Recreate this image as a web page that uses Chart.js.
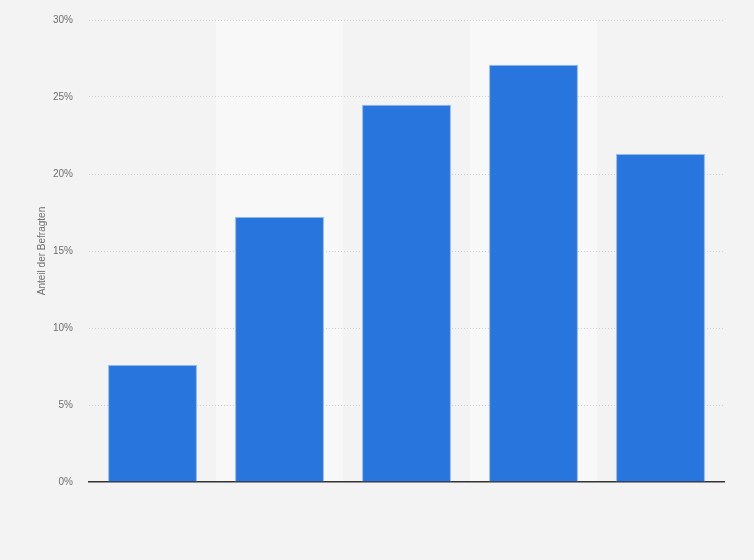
<!DOCTYPE html>
<html>
<head>
<meta charset="utf-8">
<script src="https://cdn.jsdelivr.net/npm/chart.js@4/dist/chart.umd.min.js"></script>
<style>
  html, body { margin: 0; padding: 0; background: #f3f3f3; }
  #wrap { width: 754px; height: 560px; position: relative; }
</style>
</head>
<body>
<div id="wrap"><canvas id="barChart"></canvas></div>
<script>
// categories are not labelled in the picture
const categories = ["", "", "", "", ""];
const shares = [7.6, 17.2, 24.5, 27.1, 21.3];
const yTicks = [0, 5, 10, 15, 20, 25, 30];
const yTitle = "Anteil der Befragten";

// page background plus light bands behind every second column
const bandPlugin = {
  id: "bands",
  beforeDraw(chart) {
    const { ctx, chartArea, scales } = chart;
    ctx.save();
    ctx.fillStyle = "#f3f3f3";
    ctx.fillRect(0, 0, chart.width, chart.height);
    const x = scales.x;
    const step = x.width / categories.length;
    ctx.fillStyle = "#f8f8f8";
    for (let i = 1; i < categories.length; i += 2) {
      const center = x.getPixelForValue(i);
      ctx.fillRect(center - step / 2, chartArea.top, step, chartArea.bottom - chartArea.top);
    }
    ctx.restore();
  },
};

const ctx = document.getElementById("barChart").getContext("2d");

const chart = new Chart(ctx, {
  type: "bar",
  data: {
    labels: categories,
    datasets: [
      {
        data: shares,
        backgroundColor: "#2876dd",
        borderColor: "#8fb8ee",
        borderWidth: { top: 1, left: 1, right: 1, bottom: 0 },
        categoryPercentage: 0.7,
        barPercentage: 1,
      },
    ],
  },
  options: {
    responsive: true,
    maintainAspectRatio: false,
    animation: false,
    layout: {
      padding: { left: 32, right: 30, top: 2, bottom: 70 },
    },
    plugins: {
      legend: { display: false },
      tooltip: { enabled: false },
    },
    scales: {
      x: {
        grid: { display: false },
        border: { display: true, color: "#333333", width: 1.5 },
        ticks: { display: false },
      },
      y: {
        min: 0,
        max: 30,
        afterBuildTicks: (axis) => {
          axis.ticks = yTicks.map((v) => ({ value: v }));
        },
        afterFit: (axis) => {
          axis.paddingTop = 20;
        },
        grid: {
          color: (c) => (c.tick && c.tick.value === 0 ? "rgba(0,0,0,0)" : "#cfcfcf"),
          drawTicks: false,
        },
        border: { display: false, dash: [1, 2] },
        ticks: {
          color: "#6e6e6e",
          padding: 16,
          font: { family: "Liberation Sans, Arial, sans-serif", size: 10 },
          callback: (v) => v + "%",
        },
        title: {
          display: true,
          text: yTitle,
          color: "#6e6e6e",
          padding: { top: 4, bottom: -11 },
          font: { family: "Liberation Sans, Arial, sans-serif", size: 10 },
        },
      },
    },
  },
  plugins: [bandPlugin],
});
</script>
</body>
</html>
